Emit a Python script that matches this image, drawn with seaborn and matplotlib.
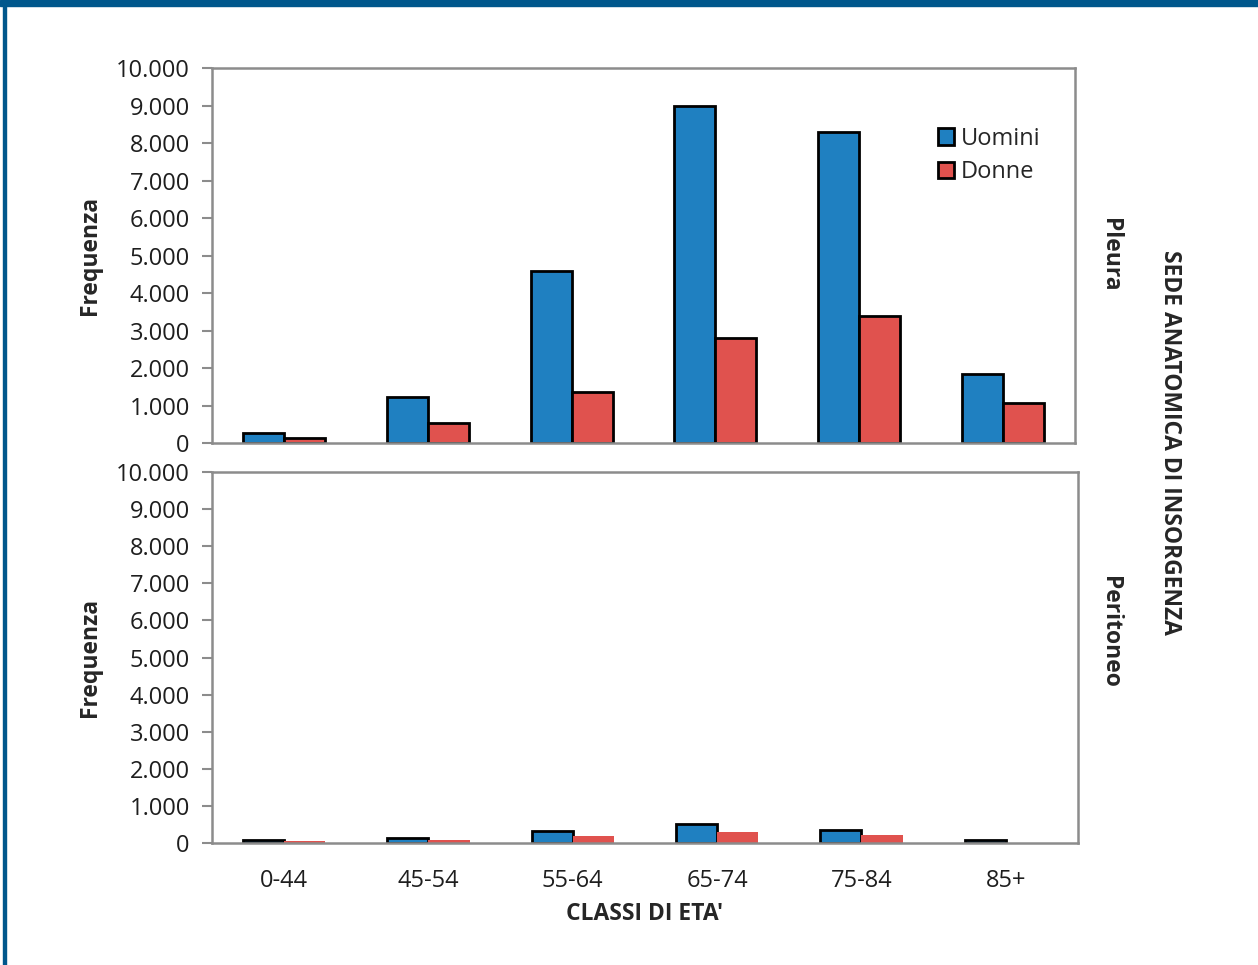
import matplotlib
matplotlib.use("Agg")
import matplotlib.pyplot as plt
import seaborn as sns
import pandas as pd
from matplotlib.patches import Rectangle
from matplotlib.ticker import FuncFormatter

classi = ["0-44", "45-54", "55-64", "65-74", "75-84", "85+"]
pleura_uomini = [260, 1230, 4580, 9000, 8300, 1830]
pleura_donne = [130, 540, 1370, 2800, 3390, 1060]
peritoneo_uomini = [80, 140, 320, 520, 350, 70]
peritoneo_donne = [50, 85, 200, 295, 225, 5]
yticks = list(range(0, 10001, 1000))

BLUE = "#1f80c1"
RED = "#e0524e"
GREY = "#8c8c8c"

sns.set_theme(style="white")
plt.rcParams["font.family"] = ["Open Sans", "DejaVu Sans"]


def long_df(u, d):
    return pd.DataFrame({
        "classe": classi * 2,
        "sesso": ["Uomini"] * len(classi) + ["Donne"] * len(classi),
        "valore": list(u) + list(d),
    })


def fmt(v, pos):
    return f"{int(v):,}".replace(",", ".")


fig = plt.figure(figsize=(12.58, 9.65), dpi=100)
ax1 = fig.add_axes([0.1685, 0.5409, 0.6860, 0.3886])
ax2 = fig.add_axes([0.1685, 0.1264, 0.6884, 0.3845])

for ax, u, d in [(ax1, pleura_uomini, pleura_donne), (ax2, peritoneo_uomini, peritoneo_donne)]:
    sns.barplot(data=long_df(u, d), x="classe", y="valore", hue="sesso",
                palette={"Uomini": BLUE, "Donne": RED}, width=0.57,
                edgecolor="black", linewidth=2, saturation=1, ax=ax)
    ax.set_ylim(0, 10000)
    ax.set_xlim(-0.5, len(classi) - 0.5)
    ax.set_yticks(yticks)
    ax.yaxis.set_major_formatter(FuncFormatter(fmt))
    ax.tick_params(axis="y", left=True, length=7, width=1.5, color=GREY,
                   labelsize=17, labelcolor="#1e1e1e", pad=9)
    ax.tick_params(axis="x", bottom=False, labelsize=17, labelcolor="#1e1e1e", pad=13)
    for s in ax.spines.values():
        s.set_color(GREY)
        s.set_linewidth(1.8)
    ax.set_ylabel("Frequenza", fontsize=16.5, fontweight="bold", labelpad=10)
    ax.get_legend().remove()

# peritoneo: donne senza bordo
for bar in ax2.containers[1]:
    bar.set_edgecolor("none")

ax1.set_xlabel("")
ax1.set_xticklabels([])
ax2.set_xlabel("CLASSI DI ETA'", fontsize=16.5, fontweight="bold", labelpad=6)

handles = [ax1.containers[0].patches[0], ax1.containers[1].patches[0]]
ax1.legend(handles, ["Uomini", "Donne"], loc="upper right", bbox_to_anchor=(0.985, 0.9),
           frameon=False, fontsize=17, handlelength=0.7, handleheight=0.7,
           handletextpad=0.3, labelspacing=0.4)

fig.text(0.882, 0.736, "Pleura", rotation=-90, fontsize=16.5, fontweight="bold",
         ha="center", va="center")
fig.text(0.882, 0.345, "Peritoneo", rotation=-90, fontsize=16.5, fontweight="bold",
         ha="center", va="center")
fig.text(0.930, 0.542, "SEDE ANATOMICA DI INSORGENZA", rotation=-90, fontsize=16.5,
         fontweight="bold", ha="center", va="center")

# cornice
fig.patches.append(Rectangle((0, 1 - 6 / 965), 1, 6 / 965, transform=fig.transFigure,
                             color="#00578c", zorder=10))
fig.patches.append(Rectangle((3 / 1258, 0), 3 / 1258, 1, transform=fig.transFigure,
                             color="#00578c", zorder=10))

fig.savefig("out.png", dpi=100, facecolor="white")
